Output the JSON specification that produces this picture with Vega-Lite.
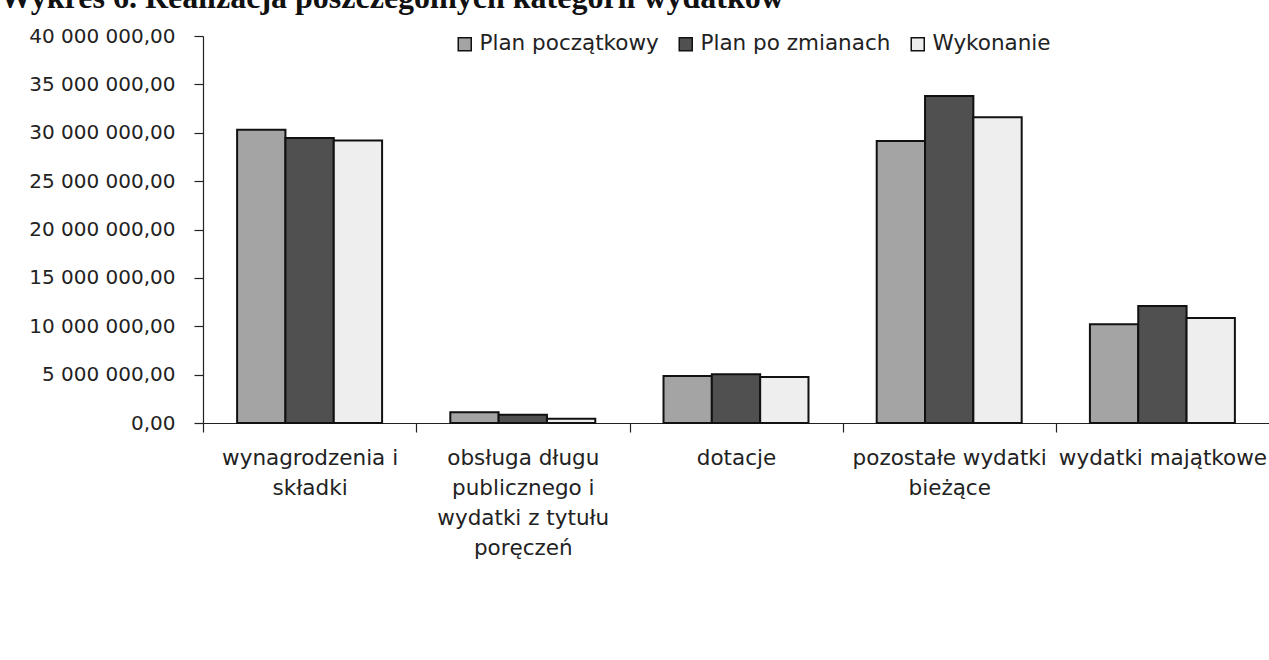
{
  "$schema": "https://vega.github.io/schema/vega-lite/v6.json",
  "width": 1066,
  "height": 387,
  "autosize": {"type": "none"},
  "padding": {"left": 203, "top": 36, "right": 0, "bottom": 237},
  "background": "white",
  "title": {
    "text": "Wykres 6. Realizacja poszczególnych kategorii wydatków",
    "font": "Liberation Serif",
    "fontSize": 32,
    "fontWeight": "bold",
    "color": "#111",
    "anchor": "start",
    "frame": "group",
    "dx": -203,
    "baseline": "alphabetic",
    "offset": -14
  },
  "data": {
    "values": [
      {"kategoria": "wynagrodzenia i składki", "seria": "Plan początkowy", "wartosc": 30300000},
      {"kategoria": "wynagrodzenia i składki", "seria": "Plan po zmianach", "wartosc": 29450000},
      {"kategoria": "wynagrodzenia i składki", "seria": "Wykonanie", "wartosc": 29200000},
      {"kategoria": "obsługa długu publicznego i wydatki z tytułu poręczeń", "seria": "Plan początkowy", "wartosc": 1100000},
      {"kategoria": "obsługa długu publicznego i wydatki z tytułu poręczeń", "seria": "Plan po zmianach", "wartosc": 850000},
      {"kategoria": "obsługa długu publicznego i wydatki z tytułu poręczeń", "seria": "Wykonanie", "wartosc": 450000},
      {"kategoria": "dotacje", "seria": "Plan początkowy", "wartosc": 4850000},
      {"kategoria": "dotacje", "seria": "Plan po zmianach", "wartosc": 5050000},
      {"kategoria": "dotacje", "seria": "Wykonanie", "wartosc": 4750000},
      {"kategoria": "pozostałe wydatki bieżące", "seria": "Plan początkowy", "wartosc": 29150000},
      {"kategoria": "pozostałe wydatki bieżące", "seria": "Plan po zmianach", "wartosc": 33800000},
      {"kategoria": "pozostałe wydatki bieżące", "seria": "Wykonanie", "wartosc": 31600000},
      {"kategoria": "wydatki majątkowe", "seria": "Plan początkowy", "wartosc": 10200000},
      {"kategoria": "wydatki majątkowe", "seria": "Plan po zmianach", "wartosc": 12100000},
      {"kategoria": "wydatki majątkowe", "seria": "Wykonanie", "wartosc": 10850000}
    ]
  },
  "mark": {"type": "bar", "stroke": "#111", "strokeWidth": 2},
  "encoding": {
    "x": {
      "field": "kategoria",
      "type": "nominal",
      "sort": null,
      "scale": {"paddingInner": 0.32, "paddingOuter": 0.16},
      "axis": {
        "title": null,
        "labelAngle": 0,
        "bandPosition": 0,
        "tickOffset": -34,
        "labelOffset": 34,
        "tickSize": 9,
        "tickColor": "#222",
        "domainColor": "#222",
        "labelFont": "DejaVu Sans",
        "labelFontSize": 21.5,
        "labelLineHeight": 30,
        "labelColor": "#222",
        "labelPadding": 15,
        "labelLimit": 400,
        "labelOverlap": false,
        "labelBound": false,
        "labelExpr": "datum.value == 'wynagrodzenia i składki' ? ['wynagrodzenia i', 'składki'] : datum.value == 'obsługa długu publicznego i wydatki z tytułu poręczeń' ? ['obsługa długu', 'publicznego i', 'wydatki z tytułu', 'poręczeń'] : datum.value == 'pozostałe wydatki bieżące' ? ['pozostałe wydatki', 'bieżące'] : datum.value"
      }
    },
    "xOffset": {
      "field": "seria",
      "type": "nominal",
      "sort": ["Plan początkowy", "Plan po zmianach", "Wykonanie"],
      "scale": {"paddingInner": 0, "paddingOuter": 0}
    },
    "y": {
      "field": "wartosc",
      "type": "quantitative",
      "scale": {"domain": [0, 40000000], "nice": false},
      "axis": {
        "title": null,
        "values": [0, 5000000, 10000000, 15000000, 20000000, 25000000, 30000000, 35000000, 40000000],
        "grid": false,
        "tickSize": 9,
        "tickColor": "#222",
        "domainColor": "#222",
        "labelFont": "DejaVu Sans",
        "labelFontSize": 20,
        "labelColor": "#222",
        "labelPadding": 19,
        "labelExpr": "datum.value == 0 ? '0,00' : format(datum.value / 1000000, 'd') + ' 000 000,00'"
      }
    },
    "color": {
      "field": "seria",
      "type": "nominal",
      "scale": {
        "domain": ["Plan początkowy", "Plan po zmianach", "Wykonanie"],
        "range": ["#a4a4a4", "#505050", "#eeeeee"]
      },
      "legend": {
        "title": null,
        "orient": "none",
        "direction": "horizontal",
        "legendX": 251,
        "legendY": -3,
        "padding": 0,
        "symbolType": "square",
        "symbolSize": 169,
        "symbolStrokeColor": "#111",
        "symbolStrokeWidth": 1.5,
        "symbolOpacity": 1,
        "labelFont": "DejaVu Sans",
        "labelFontSize": 21.5,
        "labelColor": "#222",
        "labelOffset": 4,
        "columnPadding": 16,
        "labelLimit": 400
      }
    }
  },
  "config": {
    "view": {"stroke": null},
    "axis": {"domainWidth": 1.2, "tickWidth": 1.2}
  }
}
